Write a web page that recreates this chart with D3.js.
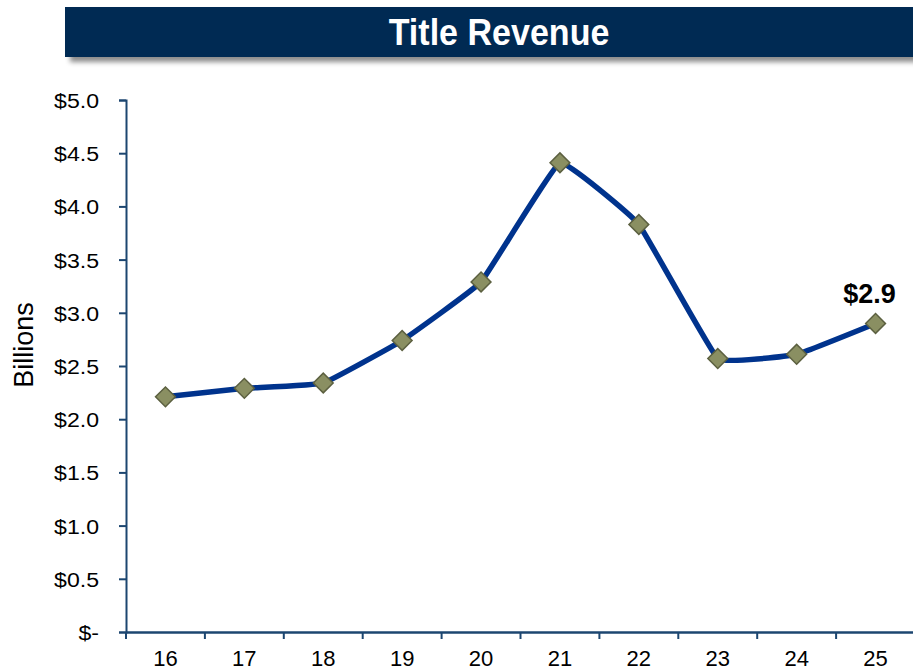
<!DOCTYPE html>
<html>
<head>
<meta charset="utf-8">
<script src="https://cdn.jsdelivr.net/npm/d3@7"></script>
<style>
	html, body { margin: 0; padding: 0; background: #fff; }
	svg { display: block; font-family: Arial, 'Liberation Sans', sans-serif; }
</style>
</head>
<body>
<div id="chart"></div>
<script>
var years = ['16', '17', '18', '19', '20', '21', '22', '23', '24', '25'];
var revenue = [2.21, 2.29, 2.34, 2.74, 3.29, 4.41, 3.83, 2.57, 2.61, 2.90];
var yTicks = [0, 0.5, 1, 1.5, 2, 2.5, 3, 3.5, 4, 4.5, 5];
var titleText = 'Title Revenue';
var axisTitle = 'Billions';
var lastLabel = '$2.9';

(function() {
	var width = 913,
		height = 670,
		left = 126,
		top = 100,
		bottom = 632,
		right = 915;

	var svg = d3.select('#chart').append('svg')
		.attr('width', width)
		.attr('height', height);

	// title bar with soft shadow
	var defs = svg.append('defs');
	var f = defs.append('filter').attr('id', 'shadow')
		.attr('x', '-5%').attr('y', '-20%').attr('width', '115%').attr('height', '160%');
	f.append('feDropShadow')
		.attr('dx', 5).attr('dy', 5).attr('stdDeviation', 2.5)
		.attr('flood-color', '#000').attr('flood-opacity', 0.45);

	svg.append('rect')
		.attr('x', 65).attr('y', 7)
		.attr('width', 860).attr('height', 50)
		.attr('fill', '#002952')
		.attr('filter', 'url(#shadow)');
	svg.append('text')
		.attr('transform', 'translate(499,45) scale(0.92,1)')
		.attr('text-anchor', 'middle')
		.attr('fill', '#fff')
		.attr('font-weight', 'bold')
		.attr('font-size', 37)
		.text(titleText);

	var x = d3.scaleBand().domain(years).range([left, right]);
	var y = d3.scaleLinear().domain([0, 5]).range([bottom, top]);

	var axisColor = '#1c4670';

	// y axis
	var yAxis = svg.append('g')
		.attr('transform', 'translate(' + left + ',0)')
		.call(d3.axisLeft(y).tickValues(yTicks).tickSizeOuter(0).tickSize(7).tickPadding(9)
			.tickFormat(function(d) { return d === 0 ? '$-  ' : '$' + d3.format('.1f')(d); }));
	yAxis.select('.domain').attr('stroke', axisColor).attr('stroke-width', 2);
	yAxis.selectAll('.tick line').attr('stroke', axisColor).attr('stroke-width', 2);
	yAxis.selectAll('.tick text')
		.attr('fill', '#000')
		.attr('font-size', 21)
		.attr('font-family', 'Arial, "Liberation Sans", sans-serif')
		.attr('dy', '0.36em')
		.attr('x', -27 / 1.1)
		.attr('transform', 'scale(1.1,1)');

	// x axis: ticks on category boundaries
	var xAxis = svg.append('g')
		.attr('transform', 'translate(0,' + bottom + ')')
		.call(d3.axisBottom(x).tickSize(0).tickSizeOuter(0).tickPadding(18));
	xAxis.select('.domain').attr('stroke', axisColor).attr('stroke-width', 2.5);
	xAxis.selectAll('.tick text')
		.attr('fill', '#000')
		.attr('font-size', 22)
		.attr('font-family', 'Arial, "Liberation Sans", sans-serif')
		.attr('dy', '0.71em');
	xAxis.selectAll('.bound')
		.data(years)
		.enter().append('line')
		.attr('class', 'bound')
		.attr('x1', function(d) { return x(d); })
		.attr('x2', function(d) { return x(d); })
		.attr('y1', 0).attr('y2', 7)
		.attr('stroke', axisColor).attr('stroke-width', 2);

	// axis title
	svg.append('text')
		.attr('transform', 'translate(33,345) rotate(-90)')
		.attr('text-anchor', 'middle')
		.attr('font-size', 27)
		.attr('fill', '#000')
		.text(axisTitle);

	var cx = function(d, i) { return x(years[i]) + x.bandwidth() / 2; };

	var line = d3.line()
		.x(function(d, i) { return cx(d, i); })
		.y(function(d) { return y(d); })
		.curve(d3.curveCardinal.tension(0.75));

	svg.append('path')
		.datum(revenue)
		.attr('d', line)
		.attr('fill', 'none')
		.attr('stroke', '#00338d')
		.attr('stroke-width', 5.5)
		.attr('stroke-linejoin', 'round');

	svg.selectAll('.marker')
		.data(revenue)
		.enter().append('rect')
		.attr('class', 'marker')
		.attr('x', -7).attr('y', -7)
		.attr('width', 14).attr('height', 14)
		.attr('transform', function(d, i) { return 'translate(' + cx(d, i) + ',' + y(d) + ') rotate(45)'; })
		.attr('fill', '#8a8f62')
		.attr('stroke', '#5c6040')
		.attr('stroke-width', 1.5);

	var n = revenue.length - 1;
	svg.append('text')
		.attr('x', cx(revenue[n], n) - 6)
		.attr('y', y(revenue[n]) - 20)
		.attr('text-anchor', 'middle')
		.attr('font-weight', 'bold')
		.attr('font-size', 27)
		.attr('fill', '#000')
		.text(lastLabel);
})();
</script>
</body>
</html>
